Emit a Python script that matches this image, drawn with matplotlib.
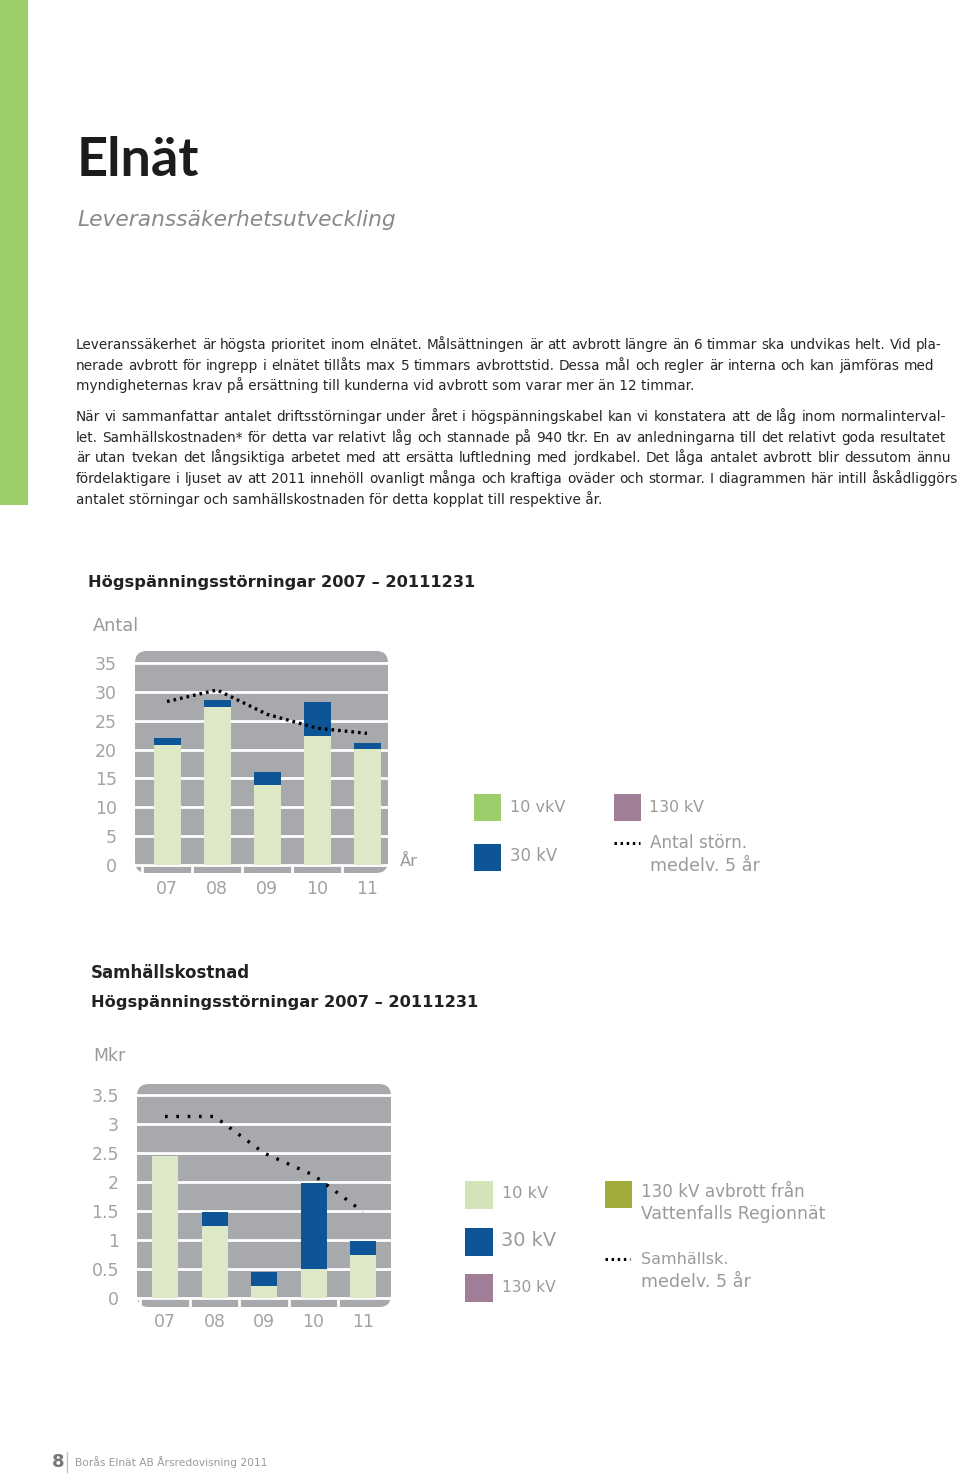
import numpy as np
import matplotlib.pyplot as plt
from matplotlib.patches import FancyBboxPatch, Rectangle

# ---- data ----
years = ["07", "08", "09", "10", "11"]

# Högspänningsstörningar, antal per år
antal_10kv = [20.8, 27.4, 13.8, 22.3, 20.1]
antal_30kv = [1.2, 1.2, 2.3, 6.0, 1.1]
antal_130kv = [0, 0, 0, 0, 0]
antal_medel = [28.3, 30.3, 26.1, 23.7, 22.8]
antal_ticks = [0, 5, 10, 15, 20, 25, 30, 35]

# Samhällskostnad, Mkr
kost_10kv = [2.45, 1.24, 0.21, 0.50, 0.74]
kost_30kv = [0.0, 0.25, 0.25, 1.49, 0.25]
kost_130kv = [0, 0, 0, 0, 0]
kost_vattenfall = [0, 0, 0, 0, 0]
kost_medel = [3.13, 3.13, 2.50, 2.12, 1.49]
kost_ticks = [0, 0.5, 1, 1.5, 2, 2.5, 3, 3.5]
kost_ticklabels = ["0", "0.5", "1", "1.5", "2", "2.5", "3", "3.5"]

para1 = [
    "Leveranssäkerhet är högsta prioritet inom elnätet. Målsättningen är att avbrott längre än 6 timmar ska undvikas helt. Vid pla-",
    "nerade avbrott för ingrepp i elnätet tillåts max 5 timmars avbrottstid. Dessa mål och regler är interna och kan jämföras med",
    "myndigheternas krav på ersättning till kunderna vid avbrott som varar mer än 12 timmar.",
]
para2 = [
    "När vi sammanfattar antalet driftsstörningar under året i högspänningskabel kan vi konstatera att de låg inom normalinterval-",
    "let. Samhällskostnaden* för detta var relativt låg och stannade på 940 tkr. En av anledningarna till det relativt goda resultatet",
    "är utan tvekan det långsiktiga arbetet med att ersätta luftledning med jordkabel. Det låga antalet avbrott blir dessutom ännu",
    "fördelaktigare i ljuset av att 2011 innehöll ovanligt många och kraftiga oväder och stormar. I diagrammen här intill åskådliggörs",
    "antalet störningar och samhällskostnaden för detta kopplat till respektive år.",
]

# colours
GRAY_BG = "#a7a9ac"
PALE = "#dde9c6"
BLUE = "#0d5597"
GREEN = "#9ccd6a"
MAUVE = "#a17e98"
OLIVE = "#a3ac3a"
TXT_GRAY = "#9a9a9a"
BODY = "#262626"

W, H = 960, 1475
fig = plt.figure(figsize=(W / 100, H / 100), dpi=100)
renderer = fig.canvas.get_renderer()

# page overlay in pixel coordinates (y down)
ax0 = fig.add_axes([0, 0, 1, 1], zorder=0)
ax0.set_xlim(0, W)
ax0.set_ylim(H, 0)
ax0.axis("off")


def text_w(t):
    return t.get_window_extent(renderer).width


def label(x, y, s, width, size=10, va="center", **kw):
    t = ax0.text(x, y, s, fontsize=size, va=va, **kw)
    t.set_fontsize(size * width / text_w(t))
    return t


def justify(line, x0, x1, y, size, **kw):
    words = line.split(" ")
    arts = [ax0.text(0, y, w, fontsize=size, va="baseline", **kw) for w in words]
    widths = [text_w(a) for a in arts]
    gap = (x1 - x0 - sum(widths)) / (len(words) - 1)
    x = x0
    for a, wd in zip(arts, widths):
        a.set_x(x)
        x += wd + gap


# side bar
ax0.add_patch(Rectangle((0, 0), 28, 505, color="#9dcf68", lw=0))

# headings
label(77, 176, "Elnät", 123, size=40, va="baseline", family=["Lato", "DejaVu Sans"],
      weight="bold", color="#1c1c1c")
label(77, 220, "Leveranssäkerhetsutveckling", 319, size=16, style="italic", color="#8a8a8a")

# body text
probe = ax0.text(0, 0, para1[-1], fontsize=10)
body_size = 10 * 614 / text_w(probe)
probe.remove()

rights1 = [942, 934]
for i, ln in enumerate(para1):
    y = 349 + i * 20.6
    if i < len(para1) - 1:
        justify(ln, 76, rights1[i], y, body_size, color=BODY)
    else:
        ax0.text(76, y, ln, fontsize=body_size, va="baseline", color=BODY)

rights2 = [946, 946, 951, 958]
for i, ln in enumerate(para2):
    y = 421 + i * 20.7
    if i < len(para2) - 1:
        justify(ln, 76, rights2[i], y, body_size, color=BODY)
    else:
        ax0.text(76, y, ln, fontsize=body_size, va="baseline", color=BODY)

# chart titles / axis captions
label(88, 582, "Högspänningsstörningar 2007 – 20111231", 386, size=12, weight="bold", color="#222222")
label(93, 626, "Antal", 46, size=12, color=TXT_GRAY)
label(400, 861, "År", 18, size=12, color=TXT_GRAY)

label(91, 973, "Samhällskostnad", 159, size=12, weight="bold", color="#222222")
label(91, 1002, "Högspänningsstörningar 2007 – 20111231", 386, size=12, weight="bold", color="#222222")
label(93, 1056, "Mkr", 32, size=12, color=TXT_GRAY)


def chart(box, zero_y, ppu, c0, step, bar_w, layers, colors, medel, ticks, ticklabels, dots, xpad):
    left, right, top, bottom = box
    ax0.add_patch(FancyBboxPatch((left, top), right - left, bottom - top,
                                 boxstyle="round,pad=0,rounding_size=12",
                                 fc=GRAY_BG, ec="none"))
    ax = fig.add_axes([left / W, 1 - bottom / H, (right - left) / W, (bottom - top) / H], zorder=1)
    ax.set_facecolor("none")
    ax.set_xlim((left - c0) / step, (right - c0) / step)
    ylo, yhi = -(bottom - zero_y) / ppu, (zero_y - top) / ppu
    ax.set_ylim(ylo, yhi)
    for v in ticks:
        ax.axhline(v, color="white", lw=2, zorder=1)
    x = np.arange(len(years))
    ax.vlines(np.append(x[0] - 0.5, x[:-1] + 0.5), ylo, 0, color="white", lw=2, zorder=1)
    base = np.zeros(len(years))
    for vals, col in zip(layers, colors):
        ax.bar(x, vals, bottom=base, width=bar_w / step, color=col, lw=0, zorder=2)
        base = base + np.array(vals)
    ax.plot(x, medel, color="black", lw=2.4, ls=dots, zorder=3)
    ax.set_yticks(ticks, ticklabels)
    ax.set_xticks(x, years)
    ax.tick_params(length=0, labelsize=12.5, labelcolor="#a3a3a3")
    ax.tick_params(axis="y", pad=13)
    ax.tick_params(axis="x", pad=xpad)
    for s in ax.spines.values():
        s.set_visible(False)
    return ax


chart((135, 388, 651, 873), 865.3, 5.787, 167, 50, 27,
      [antal_10kv, antal_30kv, antal_130kv], [PALE, BLUE, MAUVE],
      antal_medel, antal_ticks, [str(t) for t in antal_ticks], (0, (0.8, 1.2)), 5)

chart((137, 391, 1084, 1307), 1298.3, 58.1, 165, 49.5, 26,
      [kost_10kv, kost_30kv, kost_130kv, kost_vattenfall], [PALE, BLUE, MAUVE, OLIVE],
      kost_medel, kost_ticks, kost_ticklabels, (0, (0.8, 2.6)), 4)

# legend 1
ax0.add_patch(Rectangle((474, 794), 27, 27, color=GREEN, lw=0))
ax0.add_patch(Rectangle((474, 844), 27, 27, color=BLUE, lw=0))
ax0.add_patch(Rectangle((614, 794), 27, 27, color=MAUVE, lw=0))
ax0.plot([614, 640], [843, 843], color="black", lw=2.2, ls=(0, (0.8, 1.2)))
label(510, 807, "10 vkV", 55, color=TXT_GRAY)
label(510, 856, "30 kV", 47, color=TXT_GRAY)
label(649, 807, "130 kV", 55, color=TXT_GRAY)
label(650, 843, "Antal störn.", 97, color=TXT_GRAY)
label(650, 866, "medelv. 5 år", 109, color=TXT_GRAY)

# legend 2
ax0.add_patch(Rectangle((465, 1181), 28, 28, color="#d2e5b8", lw=0))
ax0.add_patch(Rectangle((465, 1228), 28, 28, color=BLUE, lw=0))
ax0.add_patch(Rectangle((465, 1274), 28, 28, color=MAUVE, lw=0))
ax0.add_patch(Rectangle((605, 1181), 27, 27, color=OLIVE, lw=0))
ax0.plot([605, 630], [1259, 1259], color="black", lw=2.2, ls=(0, (0.8, 1.2)))
label(502, 1194, "10 kV", 46, color=TXT_GRAY)
label(501, 1241, "30 kV", 55, color=TXT_GRAY)
label(502, 1287, "130 kV", 54, color=TXT_GRAY)
label(641, 1192, "130 kV avbrott från", 164, color=TXT_GRAY)
label(641, 1214, "Vattenfalls Regionnät", 185, color=TXT_GRAY)
label(641, 1259, "Samhällsk.", 87, color=TXT_GRAY)
label(641, 1282, "medelv. 5 år", 109, color=TXT_GRAY)

# footer
ax0.text(52, 1462, "8", fontsize=13, weight="bold", color="#777777", va="center")
ax0.plot([67, 67], [1452, 1472], color="#b8cc9c", lw=1)
label(75, 1462, "Borås Elnät AB Årsredovisning 2011", 192, color=TXT_GRAY)

fig.savefig("out.png", dpi=100)
